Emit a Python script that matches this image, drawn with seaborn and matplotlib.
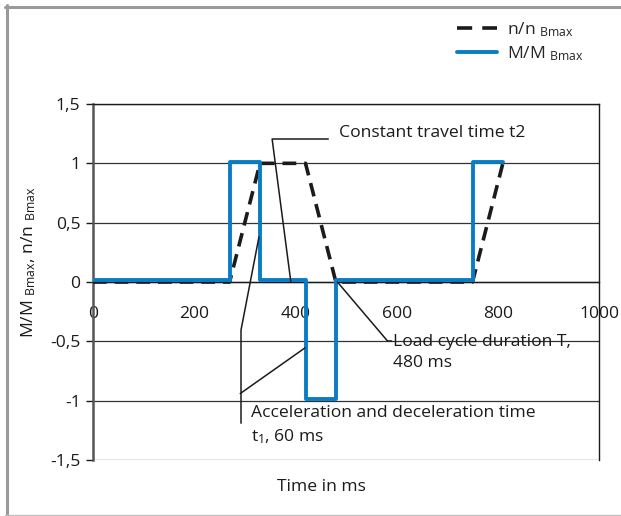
import matplotlib
matplotlib.use("Agg")
import matplotlib.pyplot as plt
import seaborn as sns
import pandas as pd
from matplotlib.lines import Line2D

# ---- data ----
time_ms = [0, 270, 330, 420, 480, 750, 810]
speed_n = [0, 0, 1, 1, 0, 0, 1]          # n/n Bmax
torque_M = [0, 1, 0, -1, 0, 1, 1]        # M/M Bmax (step, post)
x_ticks = [0, 200, 400, 600, 800, 1000]
x_tick_labels = ["0", "200", "400", "600", "800", "1000"]
y_ticks = [-1.5, -1, -0.5, 0, 0.5, 1, 1.5]
y_tick_labels = ["-1,5", "-1", "-0,5", "0", "0,5", "1", "1,5"]

# annotation leader lines (data coordinates)
ann_t2_x = [465, 354, 391]
ann_t2_y = [1.205, 1.205, 0.0]
ann_t1a_x = [328, 292.5, 292.5]
ann_t1a_y = [0.38, -0.405, -1.19]
ann_t1b_x = [291, 419]
ann_t1b_y = [-0.94, -0.555]
ann_T_x = [483, 582, 590]
ann_T_y = [0.0, -0.497, -0.497]

M_OFFSET = 0.015
BLUE = "#0a7cc6"
DARK = "#1b1b1b"
FS = 12.6

sns.set_theme(style="white")
plt.rcParams["font.family"] = ["Open Sans", "DejaVu Sans"]
plt.rcParams["mathtext.fontset"] = "custom"
plt.rcParams["mathtext.rm"] = "Open Sans"
plt.rcParams["mathtext.it"] = "Open Sans:italic"

fig = plt.figure(figsize=(6.21, 5.16), dpi=100)
W, H = 621, 516
ax = fig.add_axes([93 / W, 1 - 460 / H, 506 / W, 356 / H])

df = pd.DataFrame({"t": time_ms, "n": speed_n,
                   "M": [m + M_OFFSET for m in torque_M]})

sns.lineplot(data=df, x="t", y="n", ax=ax, color=DARK, lw=2.6,
             linestyle=(0, (3.8, 2.2)), zorder=3, legend=False)
sns.lineplot(data=df, x="t", y="M", ax=ax, color=BLUE, lw=2.8,
             drawstyle="steps-post", zorder=4, legend=False)

ax.set_xlim(0, 1000)
ax.set_ylim(-1.5, 1.5)
ax.set_xticks(x_ticks)
ax.set_xticklabels(x_tick_labels)
ax.set_yticks(y_ticks)
ax.set_yticklabels(y_tick_labels)
ax.set_xlabel("")
ax.set_ylabel("")

ax.spines["bottom"].set_position(("data", 0))
for s in ["bottom", "top", "right"]:
    ax.spines[s].set_color(DARK)
    ax.spines[s].set_linewidth(1.0)
ax.spines["left"].set_color("#555555")
ax.spines["left"].set_linewidth(1.8)
ax.yaxis.grid(True, color="#333333", lw=0.9)
ax.xaxis.grid(False)
ax.tick_params(axis="x", direction="out", length=4, width=1, color=DARK,
               pad=13, labelsize=FS, labelcolor=DARK)
ax.tick_params(axis="y", direction="out", length=5, width=1, color=DARK,
               pad=4, labelsize=FS, labelcolor=DARK, left=True)

# annotations
for xs, ys in [(ann_t2_x, ann_t2_y), (ann_t1a_x, ann_t1a_y),
               (ann_t1b_x, ann_t1b_y), (ann_T_x, ann_T_y)]:
    ax.plot(xs, ys, color=DARK, lw=1.1, clip_on=False, zorder=5)

ax.text(486, 1.255, "Constant travel time t2", fontsize=FS, color=DARK,
        ha="left", va="center")
ax.text(312, -1.21, "Acceleration and deceleration time\nt$_{1}$, 60 ms",
        fontsize=FS, color=DARK, ha="left", va="center", linespacing=1.4)
ax.text(592, -0.595, "Load cycle duration T,\n480 ms", fontsize=FS,
        color=DARK, ha="left", va="center", linespacing=1.4)

fig.text(321.5 / W, 1 - 487 / H, "Time in ms", fontsize=FS, color=DARK,
         ha="center", va="center")
fig.text(29 / W, 1 - 262 / H,
         r"M/M $_{\mathrm{Bmax}}$, n/n $_{\mathrm{Bmax}}$", fontsize=FS,
         color=DARK, ha="center", va="center", rotation=90)

handles = [Line2D([], [], color=DARK, lw=2.6, linestyle=(0, (4.2, 2.8))),
           Line2D([], [], color=BLUE, lw=2.8)]
fig.legend(handles, [r"n/n $_{\mathrm{Bmax}}$", r"M/M $_{\mathrm{Bmax}}$"],
           loc="upper left", bbox_to_anchor=(457 / W, 1 - 20 / H),
           frameon=False, fontsize=FS, handlelength=2.3, handletextpad=0.55,
           labelspacing=0.3, borderaxespad=0, borderpad=0)

# outer frame
fig.add_artist(Line2D([6.5 / W, 6.5 / W], [1 - 5 / H, 1 - 515 / H],
                      transform=fig.transFigure, color="#9a9a9a", lw=2.2))
fig.add_artist(Line2D([5 / W, 1.0], [1 - 6.5 / H, 1 - 6.5 / H],
                      transform=fig.transFigure, color="#9a9a9a", lw=2.2))
fig.add_artist(Line2D([5 / W, 1.0], [1 - 515 / H, 1 - 515 / H],
                      transform=fig.transFigure, color="#c0c0c0", lw=1.0))

fig.savefig("out.png", dpi=100)
